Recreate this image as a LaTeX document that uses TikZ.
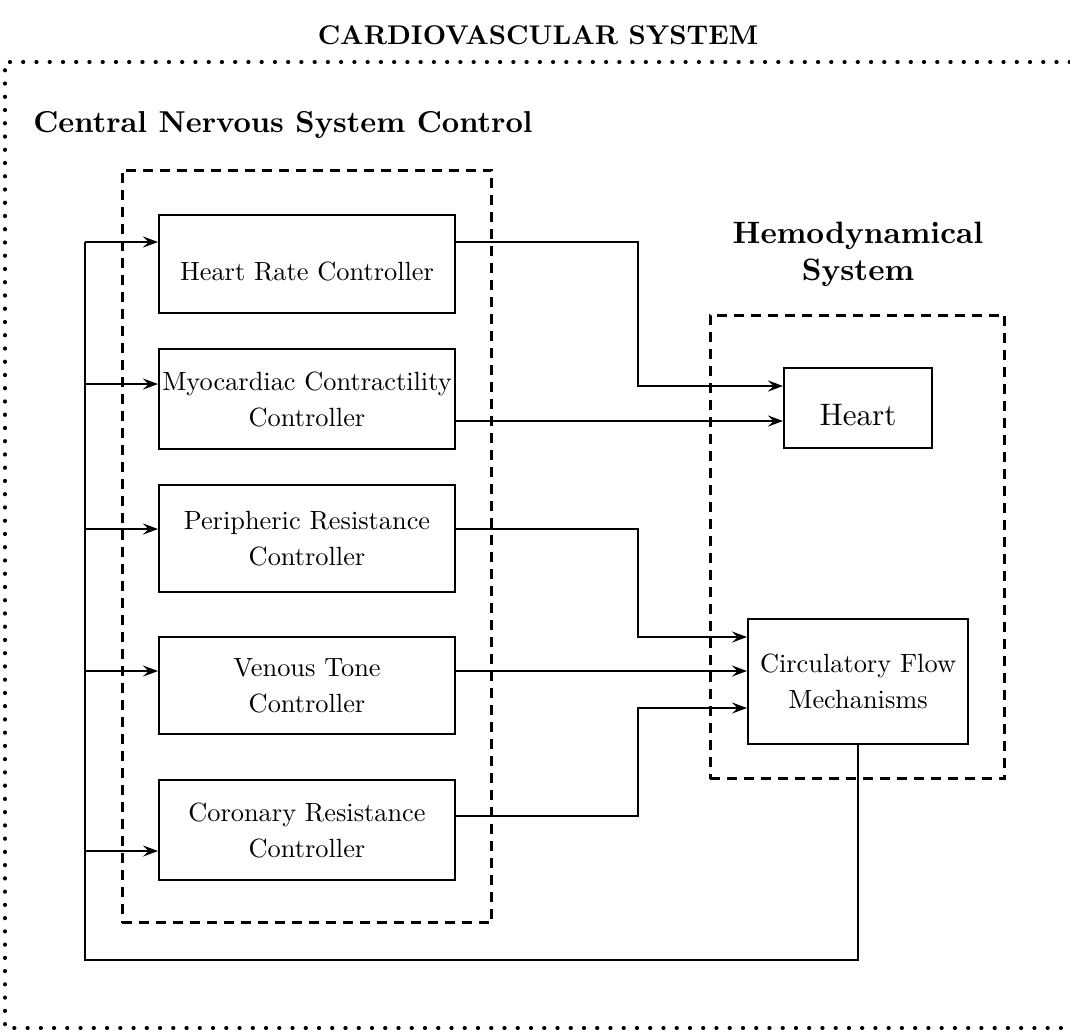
\documentclass[tikz,border=0pt]{standalone}
\usepackage{fontspec}
\setmainfont{lmroman10-regular.otf}[BoldFont=lmroman10-bold.otf]
\usetikzlibrary{arrows.meta}
\tikzset{
  blk/.style={draw, line width=0.04cm, minimum width=5.92cm, align=center,
    inner sep=0pt, font=\fontsize{15}{20.5}\selectfont},
  group/.style={draw, line width=0.06cm, dash pattern=on 0.2cm off 0.14cm, inner sep=0pt},
  frame/.style={line width=0.075cm, dash pattern=on 0.01cm off 0.255cm, line cap=round},
  wire/.style={line width=0.04cm},
  arr/.style={wire, -{Stealth[length=0.3cm, width=0.22cm, inset=0.11cm]}},
  heading/.style={font=\bfseries\fontsize{15.4}{18}\selectfont},
  sublabel/.style={align=center, inner sep=0pt, font=\bfseries\fontsize{17.6}{21}\selectfont},
}
\begin{document}
\begin{tikzpicture}[x=0.02cm, y=-0.02cm]
  \useasboundingbox (0,0) rectangle (1070,1032);

  % overall heading and the dotted enclosure
  \node[heading] (ttl) at (538,35) {CARDIOVASCULAR SYSTEM};
  \draw[frame] (1070,62) -- (5,62) -- (5,1028) -- (1070,1028);
  \node[sublabel, anchor=west, font=\bfseries\fontsize{17.2}{21}\selectfont]
        (cnslbl) at (33,125) {Central Nervous System Control};
  \node[sublabel] (hemolbl) at (858,254) {Hemodynamical\\System};

  % dashed subsystem groups
  \node[group, minimum width=7.4cm, minimum height=15.06cm] (cns) at (307,546.5) {};
  \node[group, minimum width=5.9cm, minimum height=9.28cm] (hemo) at (857.5,547) {};

  % controllers (single-line labels sit a little below the box centre)
  \node[blk, minimum height=1.96cm, text height=0.66cm, text depth=0cm]
        (hr) at (307,264) {Heart Rate Controller};
  \node[blk, minimum height=2.0cm] (mc) at (307,399) {Myocardiac Contractility\\Controller};
  \node[blk, minimum height=2.14cm] (pr) at (307,538.5) {Peripheric Resistance\\Controller};
  \node[blk, minimum height=1.94cm] (vt) at (307,685.5) {Venous Tone\\Controller};
  \node[blk, minimum height=2.0cm] (cr) at (307,830) {Coronary Resistance\\Controller};

  % hemodynamical blocks
  \node[blk, minimum width=2.96cm, minimum height=1.6cm, text height=0.68cm, text depth=0cm,
        font=\fontsize{17.7}{21}\selectfont] (heart) at (858,408) {Heart};
  \node[blk, minimum width=4.4cm, minimum height=2.5cm] (circ) at (858,681.5)
        {Circulatory Flow\\Mechanisms};

  % feedback bus
  \coordinate (tap-hr) at (85,242);
  \coordinate (tap-mc) at (85,384);
  \coordinate (tap-pr) at (85,529);
  \coordinate (tap-vt) at (85,671);
  \coordinate (tap-cr) at (85,851);
  \coordinate (fbcorner) at (85,960);
  \draw[wire] (circ.south) |- (fbcorner) -- (tap-hr);
  \foreach \n in {hr,mc,pr,vt,cr}
    \draw[arr] (tap-\n) -- (tap-\n -| \n.west);

  % controller outputs
  \coordinate (j1) at (638,386);
  \coordinate (mcout) at (0,421);
  \coordinate (j2) at (638,637);
  \coordinate (j3) at (638,708);
  \coordinate (crout) at (0,816);
  \draw[arr] (hr.east |- tap-hr) -| (j1) -- (j1 -| heart.west);
  \draw[arr] (mc.east |- mcout) -- (heart.west |- mcout);
  \draw[arr] (pr.east |- tap-pr) -| (j2) -- (j2 -| circ.west);
  \draw[arr] (vt.east |- tap-vt) -- (circ.west |- tap-vt);
  \draw[arr] (cr.east |- crout) -| (j3) -- (j3 -| circ.west);
\end{tikzpicture}
\end{document}
